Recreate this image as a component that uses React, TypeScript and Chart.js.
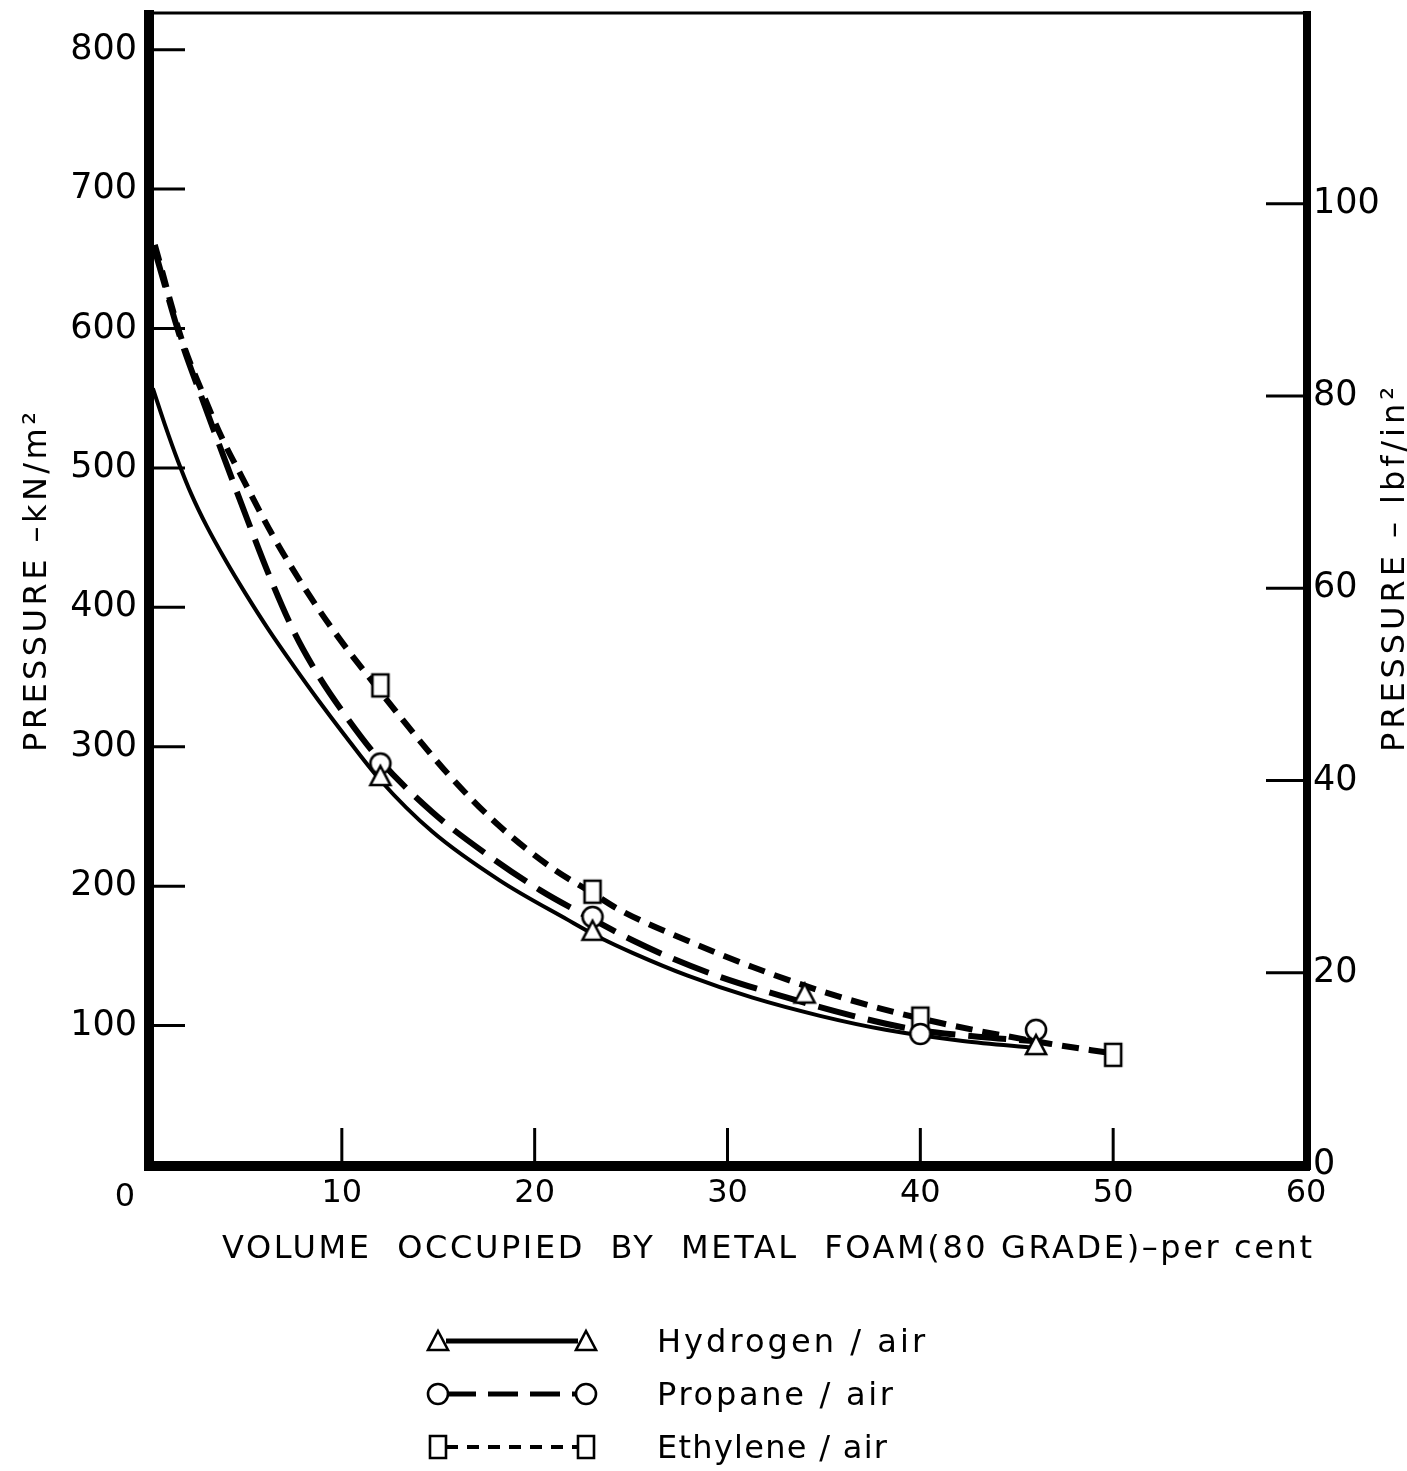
import React, { useEffect, useRef } from 'react';
import { Chart, registerables } from 'chart.js';

Chart.register(...registerables);

const FONT = 'DejaVu Sans';
const W = 1407;
const H = 1471;

// Axis ticks
const X_TICKS = [0, 10, 20, 30, 40, 50, 60];
const KN_TICKS = [100, 200, 300, 400, 500, 600, 700, 800];
const LBF_TICKS = [0, 20, 40, 60, 80, 100];
const KN_MAX = 827;
const KN_PER_LBF = 6.89476;

const SERIES_NAMES = ['Hydrogen / air', 'Propane / air', 'Ethylene / air'];

// Measured points (volume %, kN/m2)
const H2_X = [12, 23, 34, 46];
const H2_Y = [279, 168, 123, 86];
const C3_X = [12, 23, 40, 46];
const C3_Y = [288, 178, 94, 97];
const C2_X = [12, 23, 40, 50];
const C2_Y = [344, 196, 105, 79];

// Fitted curves as drawn on the figure
const H2_CURVE_X = [0.2, 0.8, 1.5, 2.2, 3.0, 4.0, 5.0, 6.2, 7.5, 8.8, 10.0, 12.0, 14.7, 18.2, 21.7, 23.4, 25.1, 27.9, 31.3, 34.8, 38.2, 42.2, 46.0];
const H2_CURVE_Y = [557, 532, 505, 481, 458, 433, 410, 384, 358, 333, 311, 276, 239, 204, 176, 163, 152, 136, 120, 107, 97, 89, 84];
const C3_CURVE_X = [0.3, 1.7, 2.8, 3.9, 5.1, 6.2, 7.5, 8.7, 10.0, 12.0, 14.7, 17.5, 20.3, 22.9, 25.1, 27.0, 29.6, 33.1, 36.5, 39.8, 43.0, 45.8];
const C3_CURVE_Y = [656, 590, 548, 507, 463, 424, 383, 353, 326, 290, 253, 223, 197, 177, 161, 149, 135, 120, 107, 97, 92, 89];
const C2_CURVE_X = [0.3, 1.7, 2.8, 3.8, 4.8, 6.4, 8.2, 9.9, 11.8, 13.0, 15.6, 18.1, 20.9, 23.0, 24.4, 27.9, 31.3, 34.8, 38.0, 41.0, 43.1, 46.7, 50.0];
const C2_CURVE_Y = [660, 592, 553, 521, 494, 452, 411, 377, 343, 322, 279, 244, 213, 195, 183, 161, 142, 125, 112, 102, 96, 87, 80];

const pts = (xs: number[], ys: number[]) => xs.map((x, i) => ({ x, y: ys[i] }));

function makeMarker(kind: string): HTMLCanvasElement {
  const c = document.createElement('canvas');
  const w = kind === 'rect' ? 22 : 26;
  const h = kind === 'rect' ? 28 : 26;
  c.width = w;
  c.height = h;
  const g = c.getContext('2d') as CanvasRenderingContext2D;
  g.lineWidth = 2.6;
  g.strokeStyle = '#000';
  g.fillStyle = '#fff';
  g.beginPath();
  if (kind === 'tri') {
    g.moveTo(13, 3);
    g.lineTo(23, 22);
    g.lineTo(3, 22);
    g.closePath();
  } else if (kind === 'circ') {
    g.arc(13, 13, 10, 0, Math.PI * 2);
  } else {
    g.rect(3, 3, 16, 22);
  }
  g.fill();
  g.stroke();
  return c;
}

function spacedText(ctx: any, text: string, x: number, y: number, width: number) {
  ctx.letterSpacing = '0px';
  const w0 = ctx.measureText(text).width;
  const ls = (width - w0) / Math.max(1, text.length - 1);
  ctx.letterSpacing = ls.toFixed(2) + 'px';
  ctx.textAlign = 'left';
  ctx.fillText(text, x, y);
  ctx.letterSpacing = '0px';
}

export default function App() {
  const ref = useRef<HTMLCanvasElement>(null);

  useEffect(() => {
    const canvas = ref.current;
    if (!canvas) return;
    const tri = makeMarker('tri');
    const circ = makeMarker('circ');
    const rect = makeMarker('rect');

    const framePlugin = {
      id: 'framePlugin',
      afterDatasetsDraw(chart: any) {
        const { ctx, chartArea: a, scales } = chart;
        const sx = scales.x;
        const sy = scales.y;
        const sy2 = scales.y2;
        ctx.save();
        ctx.strokeStyle = '#000';
        ctx.lineCap = 'butt';
        const line = (x1: number, y1: number, x2: number, y2: number) => {
          ctx.beginPath();
          ctx.moveTo(x1, y1);
          ctx.lineTo(x2, y2);
          ctx.stroke();
        };
        ctx.lineWidth = 3;
        KN_TICKS.forEach((v) => {
          const py = sy.getPixelForValue(v);
          line(a.left, py, a.left + 36, py);
        });
        X_TICKS.filter((v) => v > 0 && v < 60).forEach((v) => {
          const px = sx.getPixelForValue(v);
          line(px, a.bottom - 37, px, a.bottom);
        });
        LBF_TICKS.filter((v) => v > 0).forEach((v) => {
          const py = sy2.getPixelForValue(v);
          line(a.right - 40, py, a.right, py);
        });
        // frame
        ctx.lineWidth = 3;
        line(a.left, a.top + 1, a.right, a.top + 1);
        ctx.lineWidth = 10;
        line(a.left, a.top - 2, a.left, a.bottom + 5);
        line(a.left - 5, a.bottom + 1, a.right + 4, a.bottom + 1);
        ctx.lineWidth = 8;
        line(a.right + 1, a.top - 1, a.right + 1, a.bottom + 5);
        ctx.restore();
      },
      afterDraw(chart: any) {
        const { ctx, chartArea: a } = chart;
        ctx.save();
        ctx.fillStyle = '#000';
        ctx.textBaseline = 'alphabetic';
        // corner zero of x axis
        ctx.font = `32px ${FONT}`;
        ctx.textAlign = 'center';
        ctx.fillText('0', a.left - 24, 1206);
        // x title
        ctx.font = `32px ${FONT}`;
        spacedText(ctx, 'VOLUME  OCCUPIED  BY  METAL  FOAM(80 GRADE)\u2013per cent', 222, 1258, 1090);
        // left title
        ctx.save();
        ctx.translate(46, 752);
        ctx.rotate(-Math.PI / 2);
        ctx.font = `32px ${FONT}`;
        spacedText(ctx, 'PRESSURE \u2013kN/m\u00b2', 0, 0, 340);
        ctx.restore();
        // right title
        ctx.save();
        ctx.translate(1404, 752);
        ctx.rotate(-Math.PI / 2);
        ctx.font = `32px ${FONT}`;
        spacedText(ctx, 'PRESSURE \u2013 lbf/in\u00b2', 0, 0, 365);
        ctx.restore();

        // legend
        const rows = [1341, 1394, 1447];
        const marks = [tri, circ, rect];
        const dashes = [[], [30, 12], [12, 9]];
        const widths = [5, 5, 4];
        const textW = [268, 236, 230];
        const x1 = 438;
        const x2 = 586;
        rows.forEach((ry, i) => {
          ctx.save();
          ctx.strokeStyle = '#000';
          ctx.lineWidth = widths[i];
          ctx.setLineDash(dashes[i]);
          ctx.beginPath();
          ctx.moveTo(x1 + 8, ry);
          ctx.lineTo(x2 - 8, ry);
          ctx.stroke();
          ctx.restore();
          const m = marks[i];
          ctx.drawImage(m, x1 - m.width / 2, ry - m.height / 2);
          ctx.drawImage(m, x2 - m.width / 2, ry - m.height / 2);
          ctx.font = `32px ${FONT}`;
          spacedText(ctx, SERIES_NAMES[i], 657, ry + 11, textW[i]);
        });
        ctx.restore();
      },
    };

    const tickFont = { family: FONT, size: 35 };
    const markerBase = { showLine: false, pointRadius: 10, borderColor: '#000', backgroundColor: '#fff', order: 0 };
    const curveBase = { pointRadius: 0, borderColor: '#000', fill: false, cubicInterpolationMode: 'monotone', order: 1 };
    const noPad = (s: any) => {
      s.paddingTop = 0;
      s.paddingBottom = 0;
      s.paddingLeft = 0;
      s.paddingRight = 0;
    };

    const chart = new Chart(canvas, {
      type: 'line',
      data: {
        datasets: [
          { ...markerBase, label: SERIES_NAMES[0], data: pts(H2_X, H2_Y), pointStyle: tri },
          { ...markerBase, label: SERIES_NAMES[1], data: pts(C3_X, C3_Y), pointStyle: circ },
          { ...markerBase, label: SERIES_NAMES[2], data: pts(C2_X, C2_Y), pointStyle: rect },
          { ...curveBase, label: SERIES_NAMES[0] + ' fit', data: pts(H2_CURVE_X, H2_CURVE_Y), borderWidth: 4 },
          { ...curveBase, label: SERIES_NAMES[1] + ' fit', data: pts(C3_CURVE_X, C3_CURVE_Y), borderWidth: 6, borderDash: [38, 13] },
          { ...curveBase, label: SERIES_NAMES[2] + ' fit', data: pts(C2_CURVE_X, C2_CURVE_Y), borderWidth: 6, borderDash: [17, 10] },
        ] as any,
      },
      options: {
        responsive: false,
        animation: false,
        devicePixelRatio: 1,
        events: [],
        layout: { padding: { top: 12, left: 0, right: 0, bottom: 0 } },
        plugins: { legend: { display: false }, tooltip: { enabled: false }, title: { display: false } },
        scales: {
          x: {
            type: 'linear',
            position: 'bottom',
            min: 0,
            max: 60,
            grid: { display: false, drawTicks: false },
            border: { display: false },
            afterBuildTicks: (s: any) => { s.ticks = X_TICKS.map((v) => ({ value: v })); },
            afterFit: (s: any) => { s.height = H - 1165; noPad(s); },
            ticks: {
              padding: 9,
              color: '#000',
              font: { family: FONT, size: 32 },
              maxRotation: 0,
              autoSkip: false,
              callback: (v: any) => (v === 0 ? '' : String(v)),
            },
          },
          y: {
            type: 'linear',
            position: 'left',
            min: 0,
            max: KN_MAX,
            grid: { display: false, drawTicks: false },
            border: { display: false },
            afterBuildTicks: (s: any) => { s.ticks = KN_TICKS.map((v) => ({ value: v })); },
            afterFit: (s: any) => { s.width = 149; noPad(s); },
            ticks: { padding: 12, color: '#000', font: tickFont, autoSkip: false },
          },
          y2: {
            type: 'linear',
            position: 'right',
            min: 0,
            max: KN_MAX / KN_PER_LBF,
            grid: { display: false, drawTicks: false },
            border: { display: false },
            afterBuildTicks: (s: any) => { s.ticks = LBF_TICKS.map((v) => ({ value: v })); },
            afterFit: (s: any) => { s.width = W - 1306; noPad(s); },
            ticks: { padding: 7, color: '#000', font: tickFont, autoSkip: false },
          },
        },
      } as any,
      plugins: [framePlugin],
    });
    return () => chart.destroy();
  }, []);

  return (
    <div style={{ position: 'absolute', left: 0, top: 0, width: W, height: H, background: '#fff' }}>
      <canvas ref={ref} width={W} height={H} style={{ display: 'block', width: W, height: H }} />
    </div>
  );
}
